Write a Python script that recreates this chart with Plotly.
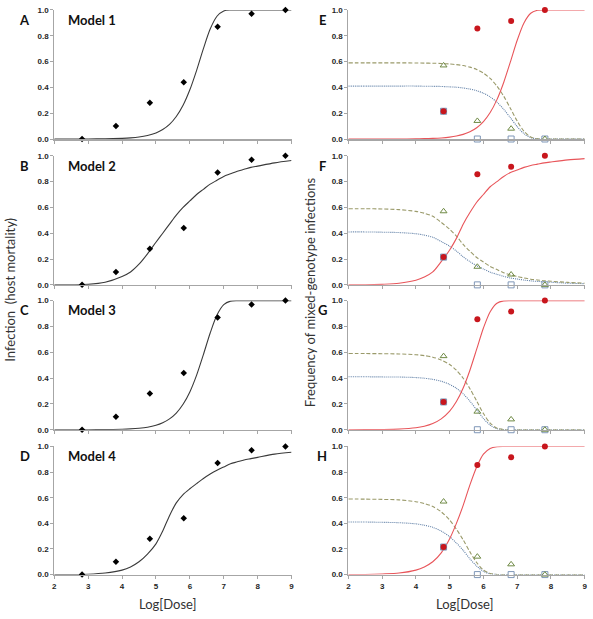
import plotly.graph_objects as go

# ---------------- data ----------------
dose_pts = [2.82, 3.82, 4.82, 5.82, 6.82, 7.82, 8.82]
mortality = [0.0, 0.10, 0.28, 0.44, 0.87, 0.97, 1.0]

mix_dose = [4.82, 5.82, 6.82, 7.82]
freq_circle = [0.215, 0.856, 0.915, 1.0]
freq_triangle = [0.57, 0.14, 0.08, 0.0]
freq_square = [0.215, 0.0, 0.0, 0.0]

curve_x = [2.0, 2.5, 3.0, 3.5, 4.0, 4.25, 4.5, 4.75, 5.0, 5.2, 5.4, 5.6, 5.8,
           6.0, 6.2, 6.4, 6.6, 6.8, 7.0, 7.2, 7.4, 7.6, 7.8, 8.0, 8.5, 9.0]

model1 = [0, 0, 0.0005, 0.0015, 0.005, 0.0085, 0.015, 0.027, 0.047, 0.073, 0.113, 0.174, 0.261,
          0.381, 0.532, 0.700, 0.852, 0.951, 0.992, 0.9995, 1, 1, 1, 1, 1, 1]
model2 = [0, 0.001, 0.004, 0.02, 0.065, 0.10, 0.16, 0.24, 0.33, 0.40, 0.47, 0.54, 0.60,
          0.65, 0.70, 0.74, 0.78, 0.81, 0.84, 0.86, 0.88, 0.895, 0.91, 0.92, 0.945, 0.963]
model3 = [0, 0, 0.0003, 0.0011, 0.0035, 0.0062, 0.011, 0.019, 0.034, 0.054, 0.084, 0.129, 0.197,
          0.293, 0.423, 0.582, 0.749, 0.888, 0.969, 0.996, 1, 1, 1, 1, 1, 1]
model4 = [0, 0, 0.003, 0.012, 0.035, 0.06, 0.10, 0.16, 0.24, 0.34, 0.46, 0.56, 0.625,
          0.67, 0.71, 0.75, 0.785, 0.815, 0.84, 0.865, 0.88, 0.895, 0.905, 0.915, 0.94, 0.955]

red_E = [0, 0, 0.0001, 0.0005, 0.001, 0.0026, 0.0046, 0.0081, 0.0145, 0.023, 0.036, 0.056, 0.087,
         0.135, 0.205, 0.305, 0.438, 0.599, 0.765, 0.899, 0.974, 0.997, 1, 1, 1, 1]
green_E = [0.59, 0.59, 0.59, 0.59, 0.589, 0.588, 0.587, 0.585, 0.581, 0.576, 0.569, 0.557, 0.539,
           0.510, 0.469, 0.410, 0.332, 0.237, 0.139, 0.060, 0.015, 0.002, 0, 0, 0, 0]
blue_E = [0.41, 0.41, 0.41, 0.41, 0.41, 0.409, 0.408, 0.407, 0.404, 0.401, 0.395, 0.387, 0.374,
          0.355, 0.326, 0.285, 0.230, 0.164, 0.096, 0.041, 0.011, 0.001, 0, 0, 0, 0]

red_F = [0, 0, 0.004, 0.012, 0.035, 0.06, 0.10, 0.18, 0.27, 0.36, 0.47, 0.56, 0.64,
         0.70, 0.76, 0.80, 0.84, 0.87, 0.89, 0.91, 0.925, 0.935, 0.945, 0.952, 0.968, 0.978]
green_F = [0.59, 0.59, 0.588, 0.583, 0.569, 0.555, 0.531, 0.484, 0.431, 0.378, 0.313, 0.260, 0.212,
           0.177, 0.142, 0.118, 0.094, 0.077, 0.065, 0.053, 0.044, 0.038, 0.032, 0.028, 0.019, 0.013]
blue_F = [0.41, 0.41, 0.408, 0.405, 0.396, 0.385, 0.369, 0.336, 0.299, 0.262, 0.217, 0.180, 0.148,
          0.123, 0.098, 0.082, 0.066, 0.053, 0.045, 0.037, 0.031, 0.027, 0.023, 0.020, 0.013, 0.009]

red_G = [0, 0.0005, 0.0016, 0.0049, 0.015, 0.027, 0.048, 0.084, 0.144, 0.218, 0.323, 0.461, 0.624,
         0.788, 0.914, 0.980, 0.998, 1, 1, 1, 1, 1, 1, 1, 1, 1]
green_G = [0.59, 0.59, 0.589, 0.587, 0.581, 0.574, 0.562, 0.540, 0.505, 0.461, 0.399, 0.318, 0.222,
           0.125, 0.051, 0.012, 0.001, 0, 0, 0, 0, 0, 0, 0, 0, 0]
blue_G = [0.41, 0.41, 0.409, 0.408, 0.404, 0.399, 0.390, 0.376, 0.351, 0.321, 0.278, 0.221, 0.154,
          0.087, 0.035, 0.008, 0.001, 0, 0, 0, 0, 0, 0, 0, 0, 0]

red_H = [0, 0.001, 0.005, 0.012, 0.035, 0.06, 0.10, 0.17, 0.28, 0.40, 0.54, 0.70, 0.84,
         0.94, 0.985, 0.998, 1, 1, 1, 1, 1, 1, 1, 1, 1, 1]
green_H = [0.59, 0.589, 0.587, 0.583, 0.569, 0.555, 0.531, 0.490, 0.425, 0.354, 0.271, 0.177, 0.094,
           0.035, 0.009, 0.001, 0, 0, 0, 0, 0, 0, 0, 0, 0, 0]
blue_H = [0.41, 0.41, 0.408, 0.405, 0.396, 0.385, 0.369, 0.340, 0.295, 0.246, 0.189, 0.123, 0.066,
          0.025, 0.006, 0.001, 0, 0, 0, 0, 0, 0, 0, 0, 0, 0]

left_models = [model1, model2, model3, model4]
left_letters = ["A", "B", "C", "D"]
left_names = ["Model 1", "Model 2", "Model 3", "Model 4"]
right_sets = [(red_E, green_E, blue_E), (red_F, green_F, blue_F),
              (red_G, green_G, blue_G), (red_H, green_H, blue_H)]
right_letters = ["E", "F", "G", "H"]
x_ticks = [2, 3, 4, 5, 6, 7, 8, 9]
y_ticks = [0.0, 0.2, 0.4, 0.6, 0.8, 1.0]

# ---------------- layout geometry ----------------
W, H = 593, 619
def px_x(p): return p / W
def px_y(p): return 1 - p / H

row_px = [(6, 137), (154, 285), (301, 432), (449, 579)]
left_dom = [px_x(52.7), px_x(292)]
right_dom = [px_x(349.3), px_x(587.7)]

AX = "#a6a6a6"
TICKFONT = dict(family="Liberation Sans, Arial", size=8, color="#262626", weight="bold")
LBLFONT = dict(family="Lato, Open Sans", size=13, color="#111", weight="bold")
TITLEFONT = dict(family="Lato, Open Sans", size=13, color="#333")

fig = go.Figure()
layout = dict(width=W, height=H, margin=dict(l=0, r=0, t=0, b=0),
              paper_bgcolor="white", plot_bgcolor="white", showlegend=False,
              annotations=[])

idx = 0
for r in range(4):
    top, bot = row_px[r]
    ydom = [px_y(bot), px_y(top)]
    for c in range(2):
        idx += 1
        xa = "xaxis" if idx == 1 else f"xaxis{idx}"
        ya = "yaxis" if idx == 1 else f"yaxis{idx}"
        xref = "x" if idx == 1 else f"x{idx}"
        yref = "y" if idx == 1 else f"y{idx}"
        layout[xa] = dict(domain=left_dom if c == 0 else right_dom, anchor=yref,
                          range=[2, 9], tickvals=x_ticks, showticklabels=(r == 3),
                          ticks="outside", ticklen=3, tickcolor=AX, showline=True,
                          linecolor=AX, linewidth=1.5, showgrid=False, zeroline=False,
                          tickfont=TICKFONT, ticklabeloverflow="allow")
        layout[ya] = dict(domain=ydom, anchor=xref, range=[0, 1.0], tickvals=y_ticks,
                          tickformat=".1f", ticks="outside", ticklen=3, tickcolor=AX,
                          showline=True, linecolor=AX, linewidth=1, showgrid=False,
                          zeroline=False, tickfont=TICKFONT, ticklabeloverflow="allow")
        if c == 0:
            fig.add_trace(go.Scatter(x=curve_x, y=left_models[r], mode="lines",
                                     line=dict(color="#3a3a3a", width=1.1, shape="spline", smoothing=0.8),
                                     xaxis=xref, yaxis=yref, hoverinfo="skip"))
            fig.add_trace(go.Scatter(x=dose_pts, y=mortality, mode="markers",
                                     marker=dict(symbol="diamond", size=5, color="black"),
                                     xaxis=xref, yaxis=yref, cliponaxis=False))
            layout["annotations"].append(dict(text=left_letters[r], x=px_x(23), y=px_y(top + 10),
                                              xref="paper", yref="paper", showarrow=False,
                                              xanchor="center", yanchor="middle", font=LBLFONT))
            layout["annotations"].append(dict(text=left_names[r], x=px_x(65), y=px_y(top + 10),
                                              xref="paper", yref="paper", showarrow=False,
                                              xanchor="left", yanchor="middle", font=LBLFONT))
        else:
            red, green, blue = right_sets[r]
            fig.add_trace(go.Scatter(x=curve_x, y=blue, mode="lines",
                                     line=dict(color="#5f7fa6", width=1.1, dash="1px,1px", shape="spline", smoothing=0.8),
                                     xaxis=xref, yaxis=yref, hoverinfo="skip"))
            fig.add_trace(go.Scatter(x=curve_x, y=green, mode="lines",
                                     line=dict(color="#9a9a6a", width=1.1, dash="4px,2px", shape="spline", smoothing=0.8),
                                     xaxis=xref, yaxis=yref, hoverinfo="skip"))
            fig.add_trace(go.Scatter(x=curve_x, y=red, mode="lines",
                                     line=dict(color="#e8555a", width=1.1, shape="spline", smoothing=0.8),
                                     xaxis=xref, yaxis=yref, hoverinfo="skip"))
            fig.add_trace(go.Scatter(x=mix_dose, y=freq_square, mode="markers",
                                     marker=dict(symbol="square", size=6,
                                                 color=["#8e86a0", "white", "white", "white"],
                                                 line=dict(color="#7f97b8", width=1)),
                                     xaxis=xref, yaxis=yref, cliponaxis=False))
            fig.add_trace(go.Scatter(x=mix_dose, y=freq_triangle, mode="markers",
                                     marker=dict(symbol="triangle-up-open", size=6, color="#6f8a45",
                                                 line=dict(width=1)),
                                     xaxis=xref, yaxis=yref, cliponaxis=False))
            fig.add_trace(go.Scatter(x=mix_dose, y=freq_circle, mode="markers",
                                     marker=dict(symbol="circle", size=6, color="#c8161d"),
                                     xaxis=xref, yaxis=yref, cliponaxis=False))
            layout["annotations"].append(dict(text=right_letters[r], x=px_x(323), y=px_y(top + 10),
                                              xref="paper", yref="paper", showarrow=False,
                                              xanchor="center", yanchor="middle", font=LBLFONT))

# axis titles
layout["annotations"].append(dict(text="Infection  (host mortality)", x=px_x(8), y=px_y(290),
                                  xref="paper", yref="paper", showarrow=False, textangle=-90,
                                  xanchor="center", yanchor="middle", font=TITLEFONT))
layout["annotations"].append(dict(text="Frequency of mixed-genotype infections", x=px_x(310), y=px_y(292),
                                  xref="paper", yref="paper", showarrow=False, textangle=-90,
                                  xanchor="center", yanchor="middle", font=TITLEFONT))
for cx in (167, 467):
    layout["annotations"].append(dict(text="Log[Dose]", x=px_x(cx), y=px_y(609),
                                      xref="paper", yref="paper", showarrow=False,
                                      xanchor="center", yanchor="middle", font=TITLEFONT))

fig.update_layout(**layout)
fig.write_html("out.html",
               config={"displayModeBar": False, "staticPlot": True},
               post_script="document.body.style.margin='0';document.body.style.overflow='hidden';")
